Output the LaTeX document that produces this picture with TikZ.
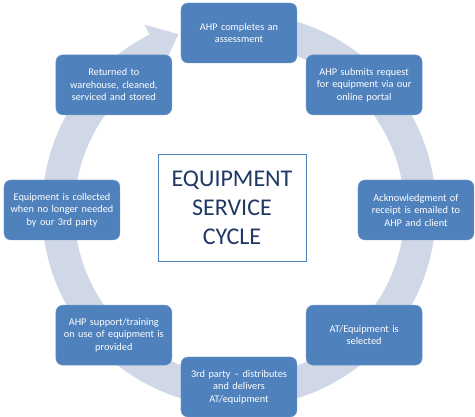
\documentclass[tikz,border=0pt]{standalone}
\usepackage{fontspec}
\setmainfont{Carlito}
\usetikzlibrary{calc}

\definecolor{stepblue}{HTML}{4F81BD}
\definecolor{ringgrey}{HTML}{D0D8E8}
\definecolor{titleblue}{HTML}{1F3864}

\tikzset{
	stepbox/.style={draw=stepblue!80!white, fill=stepblue, rounded corners=7pt,
		minimum width=116pt, minimum height=60pt, text width=112pt,
		align=center, text=white, inner sep=0pt,
		font=\fontsize{10.3}{12.5}\selectfont},
	titlebox/.style={draw=stepblue, fill=white, semithick,
		minimum width=148pt, minimum height=107pt, align=center,
		text=titleblue, font=\fontsize{24}{29}\selectfont}
}

\begin{document}
\begin{tikzpicture}[x=1pt, y=1pt]
	\def \n {8}
	\def \radius {177pt}

	\useasboundingbox (-239,-207) rectangle (236,210);

	% the big circular arrow behind the steps
	\fill[ringgrey] (85:197) arc[start angle=85, end angle=-243, radius=197]
		-- (-243:208) -- (-251:186) -- (-243:164)
		arc[start angle=-243, end angle=85, radius=165] -- cycle;

	\node[titlebox] (maintopic) at (-7,2)
		{EQUIPMENT\\SERVICE\\CYCLE};

	\node[stepbox] (first)   at ({360/\n * 0 + 90}:\radius)
		{AHP completes an\\assessment};
	\node[stepbox] (second)  at ({360/\n * 7 + 90}:\radius)
		{AHP submits request\\for equipment via our\\online portal};
	\node[stepbox] (third)   at ({360/\n * 6 + 90}:\radius)
		{Acknowledgment of\\receipt is emailed to\\AHP and client};
	\node[stepbox] (fourth)  at ({360/\n * 5 + 90}:\radius)
		{AT/Equipment is\\selected};
	\node[stepbox] (fifth)   at ({360/\n * 4 + 90}:\radius)
		{3rd party – distributes\\and delivers\\AT/equipment};
	\node[stepbox] (sixth)   at ({360/\n * 3 + 90}:\radius)
		{AHP support/training\\on use of equipment is\\provided};
	\node[stepbox] (seventh) at ({360/\n * 2 + 90}:\radius)
		{Equipment is collected\\when no longer needed\\by our 3rd party};
	\node[stepbox] (eighth)  at ({360/\n * 1 + 90}:\radius)
		{Returned to\\warehouse, cleaned,\\serviced and stored};
\end{tikzpicture}
\end{document}
